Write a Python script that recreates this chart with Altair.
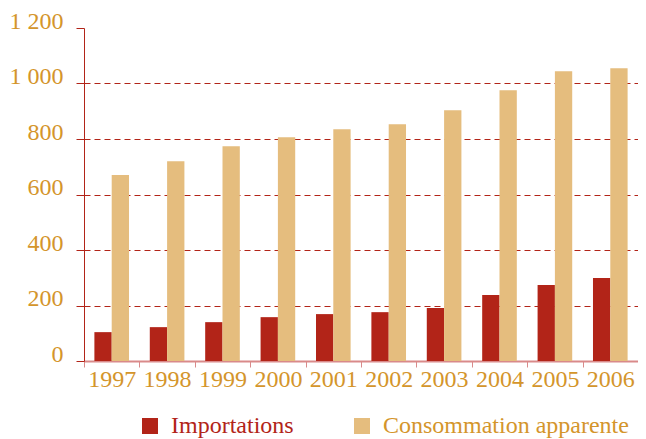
import altair as alt
import pandas as pd

years = ["1997", "1998", "1999", "2000", "2001", "2002", "2003", "2004", "2005", "2006"]
importations = [104, 122, 140, 158, 169, 176, 191, 238, 274, 299]
consommation = [670, 720, 774, 806, 835, 853, 904, 976, 1044, 1055]
series = ["Importations", "Consommation apparente"]
colors = ["#B22418", "#E5BD7E"]
y_ticks = [0, 200, 400, 600, 800, 1000, 1200]

rows = []
for i, yr in enumerate(years):
    rows.append({"year": yr, "series": series[0], "value": importations[i]})
    rows.append({"year": yr, "series": series[1], "value": consommation[i]})
df = pd.DataFrame(rows)

FONT = "Liberation Serif"
GOLD = "#D4952B"
RED = "#B22418"
PINK = "#D98A8A"

chart = alt.Chart(df).mark_bar().encode(
    x=alt.X(
        "year:N",
        sort=years,
        title=None,
        scale=alt.Scale(paddingInner=0, paddingOuter=0),
        axis=alt.Axis(
            labelAngle=0,
            labelFont=FONT,
            labelFontSize=24,
            labelColor=GOLD,
            labelPadding=0,
            tickBand="extent",
            tickSize=6,
            tickColor=PINK,
            domainColor=PINK,
            domainWidth=2,
            grid=False,
        ),
    ),
    xOffset=alt.XOffset(
        "series:N",
        sort=series,
        scale=alt.Scale(domain=series, paddingOuter=0.6, paddingInner=0),
    ),
    y=alt.Y(
        "value:Q",
        title=None,
        scale=alt.Scale(domain=[0, 1200], nice=False),
        axis=alt.Axis(
            values=y_ticks,
            labelExpr="replace(format(datum.value, ','), ',', ' ')",
            labelFont=FONT,
            labelFontSize=24,
            labelColor=GOLD,
            labelBaseline="alphabetic",
            labelPadding=13,
            tickSize=8,
            tickColor=RED,
            domainColor=RED,
            grid=True,
            gridColor=RED,
            gridDash=[6, 4],
            gridWidth=1,
            gridOpacity={"condition": {"test": "datum.value == 0 || datum.value == 1200", "value": 0}, "value": 1},
        ),
    ),
    color=alt.Color(
        "series:N",
        sort=series,
        scale=alt.Scale(domain=series, range=colors),
        legend=alt.Legend(
            title=None,
            orient="none",
            legendX=54,
            legendY=386,
            direction="horizontal",
            symbolType="square",
            symbolSize=256,
            symbolStrokeWidth=0,
            symbolOpacity=1,
            labelFont=FONT,
            labelFontSize=24,
            labelLimit=400,
            labelColor=alt.ExprRef(expr="datum.label == 'Importations' ? '#B22418' : '#D4952B'"),
            labelOffset=9,
            columnPadding=56,
        ),
    ),
).properties(
    width=554,
    height=333,
    padding={"left": 76, "top": 20, "right": 0, "bottom": 78},
    autosize=alt.AutoSizeParams(type="none"),
).configure_view(strokeOpacity=0)

chart.save("out.html", embed_options={"renderer": "svg", "actions": False})
